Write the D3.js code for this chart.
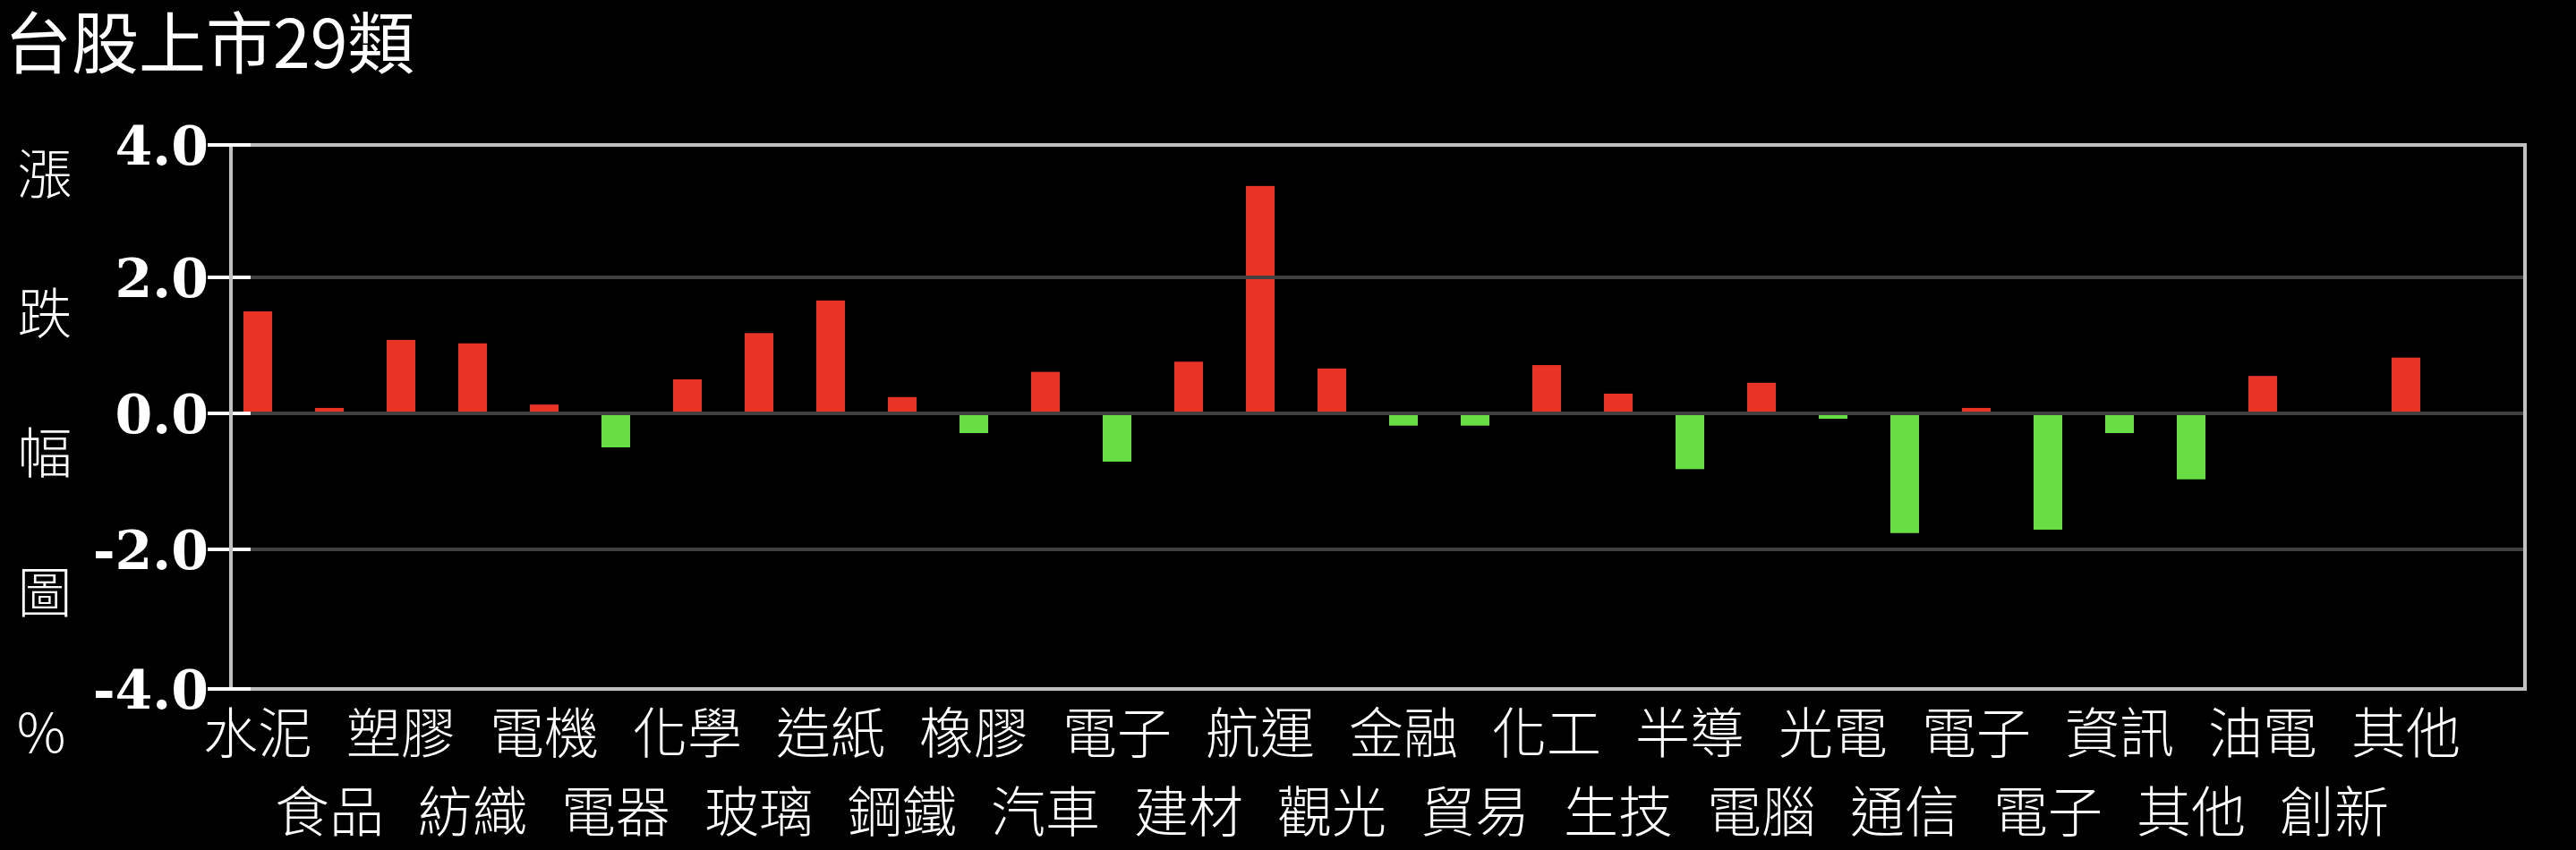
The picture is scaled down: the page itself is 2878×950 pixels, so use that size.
<!DOCTYPE html>
<html><head><meta charset="utf-8">
<script src="https://cdn.jsdelivr.net/npm/d3@7"></script>
<style>html,body{margin:0;padding:0;background:#000;overflow:hidden}</style>
</head><body>
<svg id="chart" width="2878" height="950"></svg>
<script>
// ---- data ----
const categories = ["水泥","食品","塑膠","紡織","電機","電器","化學","玻璃","造紙","鋼鐵",
  "橡膠","汽車","電子","建材","航運","觀光","金融","貿易","化工","生技",
  "半導","電腦","光電","通信","電子","電子","資訊","其他","油電","創新","其他"];
const values = [1.50,0.08,1.08,1.03,0.13,-0.50,0.50,1.18,1.66,0.24,
  -0.29,0.61,-0.71,0.76,3.38,0.66,-0.18,-0.18,0.71,0.29,
  -0.82,0.45,-0.08,-1.76,0.08,-1.71,-0.29,-0.97,0.55,0,0.82];
const yTicks = [4,2,0,-2,-4];
const yTickLabels = ["4.0","2.0","0.0","-2.0","-4.0"];
const titleText = "台股上市29類";
const yTitleChars = ["漲","跌","幅","圖"];
const unitText = "%";

// ---- chart ----
const W = 2878, H = 950;
const svg = d3.select("#chart");
svg.append("rect").attr("width",W).attr("height",H).attr("fill","#000");

const plotLeft = 258, plotRight = 2821;
const x = d3.scaleBand().domain(d3.range(categories.length))
  .range([248, 2728]).paddingInner(0.6).paddingOuter(0.3);
const y = d3.scaleLinear().domain([-4,-2,0,2,4]).range([770,614,462,310,162]);

const CJK = "'Noto Sans CJK TC','Noto Sans CJK SC',sans-serif";

// title
svg.append("text").attr("x",5).attr("y",76)
  .attr("font-family",CJK).attr("font-size",75).attr("fill","#fff")
  .text(titleText);

// bars
svg.append("g").selectAll("rect").data(values).join("rect")
  .attr("x",(d,i)=>x(i))
  .attr("width",x.bandwidth())
  .attr("y",d=>d>=0? y(d) : y(0))
  .attr("height",d=>Math.abs(y(d)-y(0)))
  .attr("fill",d=>d>=0? "#e93425" : "#66de44");

// gridlines + frame top/bottom
svg.append("g").selectAll("line").data(yTicks).join("line")
  .attr("x1",280).attr("x2",plotRight)
  .attr("y1",d=>y(d)).attr("y2",d=>y(d))
  .attr("stroke",d=>(d===4||d===-4)?"#c0c0c0":"#404040")
  .attr("stroke-width",4);

// right frame
svg.append("line").attr("x1",plotRight).attr("x2",plotRight)
  .attr("y1",y(4)-2).attr("y2",y(-4)+2)
  .attr("stroke","#c0c0c0").attr("stroke-width",4);

// tick marks
svg.append("g").selectAll("line").data(yTicks).join("line")
  .attr("x1",232).attr("x2",280)
  .attr("y1",d=>y(d)).attr("y2",d=>y(d))
  .attr("stroke","#fff").attr("stroke-width",4);

// left axis line
svg.append("line").attr("x1",plotLeft).attr("x2",plotLeft)
  .attr("y1",y(4)+2).attr("y2",y(-4)-2)
  .attr("stroke","#c0c0c0").attr("stroke-width",4);

// tick labels
svg.append("g").selectAll("text").data(yTicks).join("text")
  .attr("x",233).attr("y",d=>y(d)+22)
  .attr("text-anchor","end")
  .attr("font-family","'DejaVu Serif',serif").attr("font-weight","bold")
  .attr("font-size",60).attr("fill","#fff")
  .text((d,i)=>yTickLabels[i]);

// y title (vertical characters)
svg.append("g").selectAll("text").data(yTitleChars).join("text")
  .attr("x",50).attr("y",(d,i)=>217+i*156)
  .attr("text-anchor","middle")
  .attr("font-family",CJK).attr("font-size",61).attr("font-weight",300).attr("fill","#fff")
  .text(d=>d);
svg.append("text").attr("x",46).attr("y",841).attr("text-anchor","middle")
  .attr("font-family",CJK).attr("font-size",61).attr("font-weight",300).attr("fill","#fff")
  .text(unitText);

// category labels, alternating rows
svg.append("g").selectAll("text").data(categories).join("text")
  .attr("x",(d,i)=>x(i)+x.bandwidth()/2)
  .attr("y",(d,i)=> i%2===0 ? 842 : 930)
  .attr("text-anchor","middle")
  .attr("font-family",CJK).attr("font-size",61).attr("font-weight",300).attr("fill","#fff")
  .text(d=>d);
</script>
</body></html>
